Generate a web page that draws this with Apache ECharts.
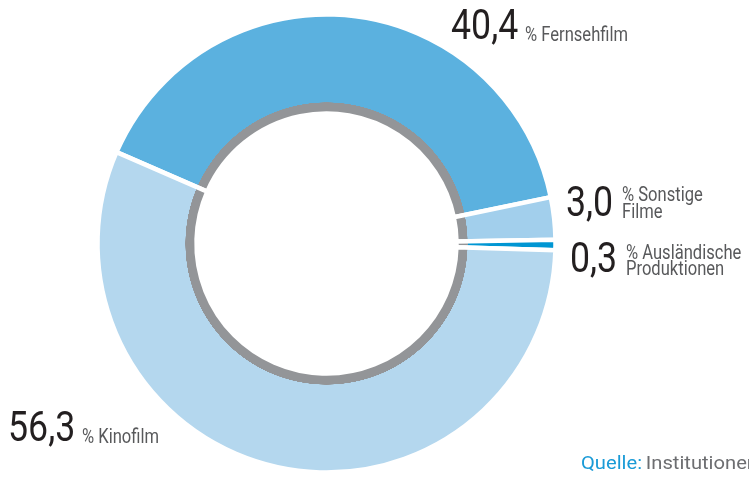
<!DOCTYPE html>
<html>
<head>
<meta charset="utf-8">
<script src="https://cdn.jsdelivr.net/npm/echarts@6/dist/echarts.min.js"></script>
<style>
  html, body { margin: 0; padding: 0; background: #fff; }
  #chart { width: 749px; height: 477px; }
</style>
</head>
<body>
<div id="chart"></div>
<script>
// Anteile nach Produktionsart (%)
const categories = ['Fernsehfilm', 'Sonstige Filme', 'Ausländische Produktionen', 'Kinofilm']
const shares = [40.4, 3.0, 0.3, 56.3]
const labelTexts = ['% Fernsehfilm', '% Sonstige\nFilme', '% Ausländische\nProduktionen', '% Kinofilm']
const sliceColors = ['#5bb1df', '#a2cfec', '#0096d3', '#b4d7ee']

const CX = 326.5, CY = 243.5
const R_OUT = 229, R_IN = 130, R_GRAY = 141
const RING_GRAY = '#939598'

// Grauer Innenring als Teil jedes Segments (radialer Verlauf, globale Koordinaten)
function ringFill(color) {
  const s = R_GRAY / R_OUT
  return {
    type: 'radial', x: CX, y: CY, r: R_OUT, global: true,
    colorStops: [
      { offset: 0, color: RING_GRAY },
      { offset: s, color: RING_GRAY },
      { offset: s + 0.001, color: color },
      { offset: 1, color: color },
    ]
  }
}

const fmt = v => v.toFixed(1).replace('.', ',')

// Beschriftungspositionen (Zahl links, Text rechts daneben)
const labelPos = [
  { nx: 451, ny: 28, tx: 525, ty: 36 },
  { nx: 566, ny: 205, tx: 622, ty: 204.7 },
  { nx: 570, ny: 261, tx: 626, ty: 262.3 },
  { nx: 8, ny: 430, tx: 82, ty: 437.8 },
]

const SX = 0.85
const graphics = []
shares.forEach((v, i) => {
  const p = labelPos[i]
  graphics.push({
    type: 'text', x: p.nx, y: p.ny, scaleX: SX, silent: true,
    style: { text: fmt(v), font: '42px Roboto', fill: '#231f20', textVerticalAlign: 'middle' }
  })
  graphics.push({
    type: 'text', x: p.tx, y: p.ty, scaleX: SX, silent: true,
    style: {
      text: labelTexts[i], font: '19.5px Roboto', fill: '#58595b',
      lineHeight: 16.6, textVerticalAlign: 'middle'
    }
  })
})
graphics.push({
  type: 'text', x: 581, y: 464, scaleX: 1.12, silent: true,
  style: {
    text: '{a|Quelle:} {b|Institutionen}',
    textVerticalAlign: 'middle',
    rich: {
      a: { font: '18px Roboto', fill: '#1a9bd7' },
      b: { font: '18px Roboto', fill: '#6d6e71' },
    }
  }
})

const chart = echarts.init(document.getElementById('chart'))
chart.setOption({
  animation: false,
  backgroundColor: '#fff',
  series: [{
    type: 'pie',
    center: [CX, CY],
    radius: [R_IN, R_OUT],
    startAngle: 156.5,
    clockwise: true,
    minAngle: 2.6,
    silent: true,
    avoidLabelOverlap: false,
    label: { show: false },
    labelLine: { show: false },
    emphasis: { disabled: true },
    itemStyle: { borderColor: '#fff', borderWidth: 4.5 },
    data: shares.map((v, i) => ({ value: v, name: categories[i], itemStyle: { color: ringFill(sliceColors[i]) } })),
  }],
  graphic: graphics,
})
</script>
</body>
</html>
